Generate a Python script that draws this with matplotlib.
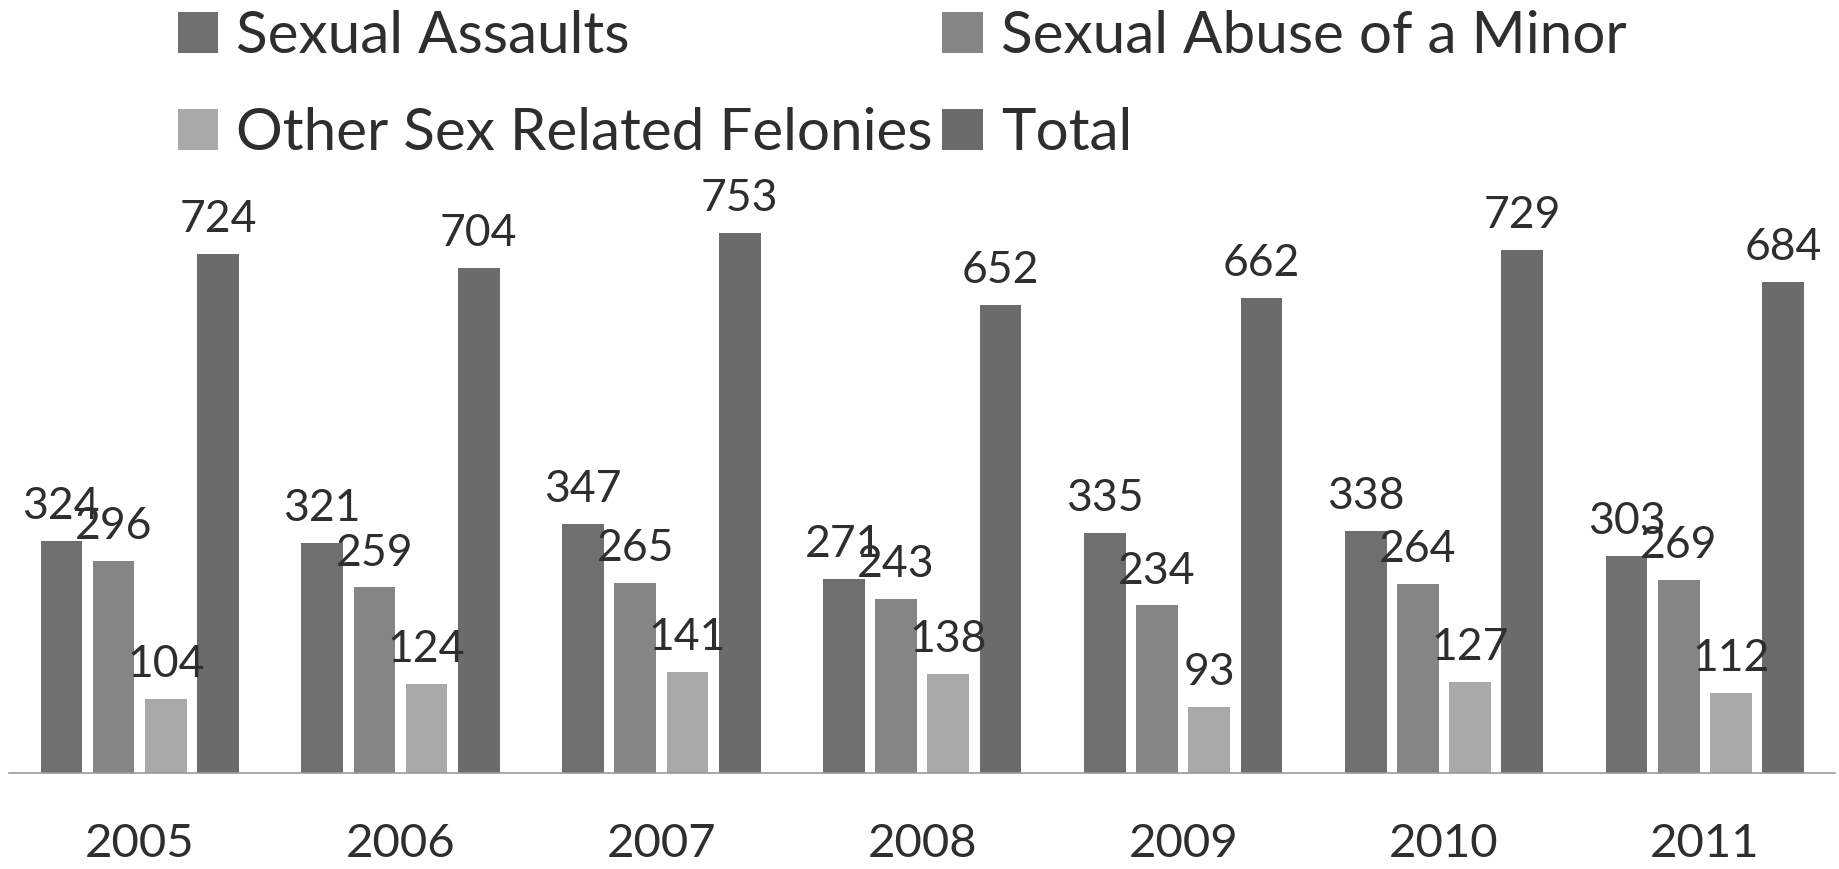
import matplotlib
matplotlib.use("Agg")
import matplotlib.pyplot as plt
import numpy as np

plt.rcParams['font.family'] = ['Lato', 'DejaVu Sans']

years = ["2005", "2006", "2007", "2008", "2009", "2010", "2011"]
sexual_assaults = [324, 321, 347, 271, 335, 338, 303]
abuse_of_minor = [296, 259, 265, 243, 234, 264, 269]
other_felonies = [104, 124, 141, 138, 93, 127, 112]
totals = [724, 704, 753, 652, 662, 729, 684]

series = [
    ("Sexual Assaults", sexual_assaults, "#6f6f6f"),
    ("Sexual Abuse of a Minor", abuse_of_minor, "#858585"),
    ("Other Sex Related Felonies", other_felonies, "#a9a9a9"),
    ("Total", totals, "#6b6b6b"),
]

fig = plt.figure(figsize=(18.39, 8.69), dpi=100)
ax = fig.add_axes([0.005, 0.110, 0.993, 0.661])

x = np.arange(len(years))
width = 0.16
step = 0.20
handles = []
for i, (name, vals, color) in enumerate(series):
    pos = x + (i - 1.5) * step
    bars = ax.bar(pos, vals, width=width, color=color, label=name)
    handles.append(bars)
    for p, v in zip(pos, vals):
        ax.annotate(str(v), (p, v), xytext=(0, 10), textcoords="offset points",
                    ha="center", va="bottom", fontsize=32, color="#2e2e2e")

ax.set_xlim(-0.5, 6.5)
ax.set_ylim(0, 800)
ax.set_xticks(x)
ax.set_xticklabels(years, fontsize=34, color="#2e2e2e")
ax.tick_params(axis="x", length=0, pad=36)
ax.set_yticks([])
for s in ["top", "left", "right"]:
    ax.spines[s].set_visible(False)
ax.spines["bottom"].set_color("#9a9a9a")
ax.spines["bottom"].set_linewidth(1.2)

# legend is filled column by column, so order handles to read row by row
order = [0, 2, 1, 3]
fig.legend(handles=[handles[k] for k in order], loc="upper left",
           bbox_to_anchor=(0.068, 1.049), ncol=2, frameon=False, fontsize=42,
           handlelength=0.7, handleheight=0.7, handletextpad=0.3,
           columnspacing=0.17, labelspacing=0.75, labelcolor="#2e2e2e")

fig.savefig("out.png", dpi=100, facecolor="white")
